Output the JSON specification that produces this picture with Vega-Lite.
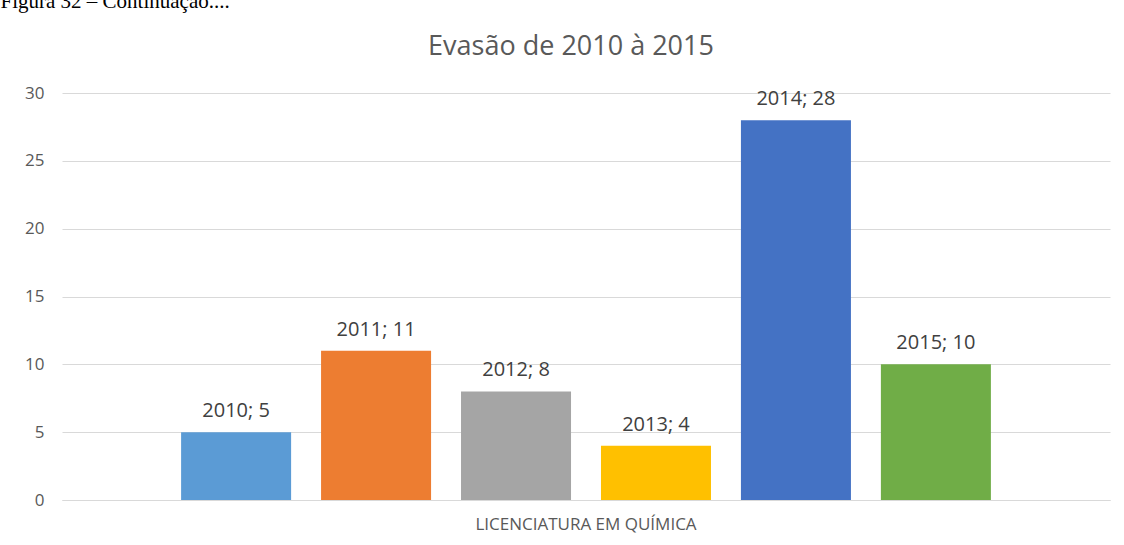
{
  "$schema": "https://vega.github.io/schema/vega-lite/v6.json",
  "width": 1048,
  "height": 407,
  "autosize": {"type": "none"},
  "padding": {"left": 62, "top": 93, "right": 14, "bottom": 45},
  "background": "#ffffff",
  "title": {
    "text": "Evasão de 2010 à 2015",
    "anchor": "middle",
    "dx": -15,
    "offset": -92,
    "baseline": "alphabetic",
    "font": "Open Sans",
    "fontSize": 27,
    "fontWeight": "normal",
    "color": "#595959"
  },
  "config": {
    "view": {"stroke": null},
    "font": "Open Sans"
  },
  "data": {
    "values": [
      {"curso": "LICENCIATURA EM QUÍMICA", "ano": "2010", "valor": 5, "rotulo": "2010; 5"},
      {"curso": "LICENCIATURA EM QUÍMICA", "ano": "2011", "valor": 11, "rotulo": "2011; 11"},
      {"curso": "LICENCIATURA EM QUÍMICA", "ano": "2012", "valor": 8, "rotulo": "2012; 8"},
      {"curso": "LICENCIATURA EM QUÍMICA", "ano": "2013", "valor": 4, "rotulo": "2013; 4"},
      {"curso": "LICENCIATURA EM QUÍMICA", "ano": "2014", "valor": 28, "rotulo": "2014; 28"},
      {"curso": "LICENCIATURA EM QUÍMICA", "ano": "2015", "valor": 10, "rotulo": "2015; 10"}
    ]
  },
  "encoding": {
    "x": {
      "field": "curso",
      "type": "nominal",
      "scale": {"paddingInner": 0, "paddingOuter": 0.124},
      "axis": {
        "title": null,
        "labelAngle": 0,
        "labelLimit": 0,
        "labelFont": "Open Sans",
        "labelFontSize": 17,
        "labelColor": "#595959",
        "labelPadding": 16,
        "ticks": false,
        "domain": true,
        "domainColor": "#D9D9D9",
        "domainWidth": 1
      }
    },
    "xOffset": {
      "field": "ano",
      "type": "nominal",
      "scale": {"paddingInner": 0.214, "paddingOuter": 0.107}
    },
    "y": {
      "field": "valor",
      "type": "quantitative",
      "scale": {"domain": [0, 30], "nice": false},
      "axis": {
        "title": "Figura 32 – Continuação....",
        "titleAngle": 0,
        "titleAlign": "left",
        "titleBaseline": "alphabetic",
        "titleX": -62,
        "titleY": -86,
        "titleFont": "Liberation Serif",
        "titleFontSize": 21,
        "titleFontWeight": "normal",
        "titleColor": "#000000",
        "values": [0, 5, 10, 15, 20, 25, 30],
        "labelFont": "Open Sans",
        "labelFontSize": 17,
        "labelColor": "#595959",
        "labelPadding": 18,
        "ticks": false,
        "domain": false,
        "grid": true,
        "gridColor": "#D9D9D9",
        "gridWidth": 1
      }
    }
  },
  "layer": [
    {
      "mark": {"type": "bar"},
      "encoding": {
        "color": {
          "field": "ano",
          "type": "nominal",
          "scale": {
            "domain": ["2010", "2011", "2012", "2013", "2014", "2015"],
            "range": ["#5B9BD5", "#ED7D31", "#A5A5A5", "#FFC000", "#4472C4", "#70AD47"]
          },
          "legend": null
        }
      }
    },
    {
      "mark": {
        "type": "text",
        "baseline": "alphabetic",
        "dy": -15,
        "font": "Open Sans",
        "fontSize": 20,
        "color": "#404040"
      },
      "encoding": {
        "text": {"field": "rotulo"}
      }
    }
  ]
}
